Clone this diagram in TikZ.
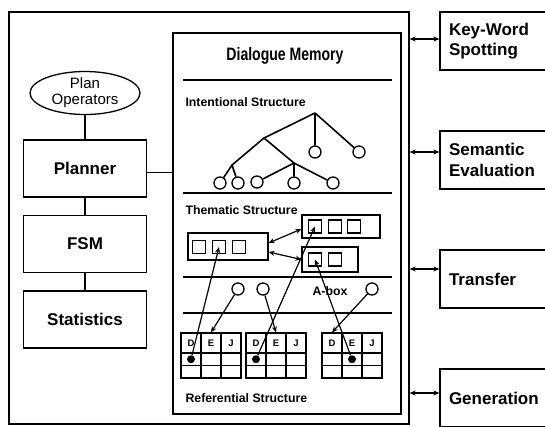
\documentclass[tikz,border=0pt]{standalone}
\usepackage{fontspec}
\setmainfont{Liberation Sans}
\newfontfamily\condsans[FakeStretch=0.78]{Liberation Sans}
\usetikzlibrary{shapes.geometric, positioning, arrows.meta}
\newcommand{\modfont}{\fontsize{17}{20.5}\selectfont\bfseries}
\newcommand{\titlefont}{\condsans\fontsize{18}{20}\selectfont\bfseries}
\newcommand{\labfont}{\fontsize{12.3}{14}\selectfont\bfseries}
\newcommand{\opsfont}{\fontsize{15}{17}\selectfont}
\newcommand{\cellfont}{\fontsize{9.5}{9.5}\selectfont\bfseries}
\tikzset{
>={Stealth[length=6pt, width=5pt]}, % small filled arrow heads
link/.style={line width=1.3pt}, % plain connections
pointer/.style={line width=1.2pt}, % arrows inside the memory
module/.style={draw, line width=1.3pt, minimum width=123pt, minimum height=57pt, font=\modfont}, % boxes on the left
outbox/.style={draw, line width=1.3pt, minimum width=110pt, minimum height=58pt, text width=92pt, inner xsep=9pt, align=left, font=\modfont}, % boxes on the right
leaf/.style={draw, circle, line width=1.3pt, minimum size=12pt, inner sep=0pt}, % tree and a-box circles
sq/.style={draw, line width=1.1pt, minimum size=13pt, inner sep=0pt}, % small squares of the thematic structure
head/.style={draw, line width=1.1pt, minimum width=20pt, minimum height=20pt, inner sep=0pt, font=\cellfont}, % grid header cells
cell/.style={draw, line width=1.1pt, minimum width=20pt, minimum height=12.5pt, inner sep=0pt}, % grid cells
dot/.style={circle, fill, minimum size=8pt, inner sep=0pt}, % pointer origins
}
\begin{document}
\begin{tikzpicture}[x=1pt, y=-1pt]
            \useasboundingbox (0,0) rectangle (545,426);
            \node[draw, line width=1.3pt, minimum width=400pt, minimum height=412pt] (system) at (209,218) {};
            \node[draw, line width=1.3pt, minimum width=228pt, minimum height=381pt] (memory) at (287,223.5) {};
            \node[font=\titlefont] (title) at (285,56) {Dialogue Memory};
            \foreach \y in {80,193,277,313}
                \draw[pointer] (183,\y) -- (392,\y);
            \node[font=\labfont, anchor=west] (intent) at (182,102) {Intentional Structure};
            \node[font=\labfont, anchor=west] (thema) at (182,210) {Thematic Structure};
            \node[font=\labfont, anchor=west] (refer) at (182,398) {Referential Structure};

            % left column
            \node[ellipse, draw, line width=1.3pt, minimum width=110pt, minimum height=43pt, inner sep=0pt, align=center, font=\opsfont] (ops) at (85,93) {Plan\\[-1pt]Operators};
            \begin{scope}[node distance=75.5pt]
            \node[module, below of=ops] (planner) {Planner};
            \node[module, below of=planner] (fsm) {FSM};
            \node[module, below of=fsm] (stats) {Statistics};
            \end{scope}
            \draw[link] (ops) -- (planner) (planner) -- (fsm) (fsm) -- (stats);
            \draw[link] ([yshift=-4pt]planner.east) -- ([yshift=-4pt]planner.east -| memory.west);

            % right column
            \begin{scope}[node distance=119pt]
            \node[outbox] (keyword) at (495,41) {Key-Word\\Spotting};
            \node[outbox, below of=keyword] (semantic) {Semantic\\Evaluation};
            \node[outbox, below of=semantic] (transfer) {Transfer};
            \node[outbox, below of=transfer] (generation) {Generation};
            \end{scope}
            \draw[<->, link] ([yshift=2pt]keyword.west) -- ([yshift=2pt]keyword.west -| system.east);
            \draw[<->, link] ([yshift=8pt]semantic.west) -- ([yshift=8pt]semantic.west -| system.east);
            \draw[<->, link] ([yshift=10pt]transfer.west) -- ([yshift=10pt]transfer.west -| system.east);
            \draw[<->, link] ([yshift=5pt]generation.west) -- ([yshift=5pt]generation.west -| system.east);

            % intentional structure
            \coordinate (root) at (315,113);
            \coordinate (ta) at (264,138);
            \coordinate (tb) at (232,165);
            \coordinate (tc) at (294,163);
            \node[leaf] (l1) at (315,152) {};
            \node[leaf] (l2) at (359,152) {};
            \node[leaf] (l3) at (220,183) {};
            \node[leaf] (l4) at (238,183) {};
            \node[leaf] (l5) at (257,182) {};
            \node[leaf] (l6) at (294,183) {};
            \node[leaf] (l7) at (333,183) {};
            \draw[link, line width=1.6pt]
                (root) -- (l1) (root) -- (l2) (root) -- (ta)
                (ta) -- (tb) (ta) -- (tc)
                (tb) -- (l3) (tb) -- (l4)
                (tc) -- (l5) (tc) -- (l6) (tc) -- (l7);

            % thematic structure
            \node[draw, line width=1.1pt, minimum width=80pt, minimum height=27pt] (theme1) at (228,246.5) {};
            \node[draw, line width=1.1pt, minimum width=78pt, minimum height=23pt] (theme2) at (341,226.5) {};
            \node[draw, line width=1.1pt, minimum width=56pt, minimum height=25pt] (theme3) at (330,259.5) {};
            \foreach \i/\x in {1/199,2/219,3/239}
                \node[sq] (s1\i) at (\x,247) {};
            \foreach \i/\x in {1/315,2/335,3/354}
                \node[sq] (s2\i) at (\x,226.5) {};
            \foreach \i/\x in {1/315,2/335}
                \node[sq] (s3\i) at (\x,259.5) {};
            \draw[<->, pointer] ([yshift=3.5pt]theme1.east) -- ([yshift=-2.5pt]theme2.west);
            \draw[<->, pointer] ([yshift=-5.5pt]theme1.east) -- (theme3.west);

            % a-box
            \node[leaf] (ab1) at (238,289) {};
            \node[leaf] (ab2) at (263,289) {};
            \node[leaf] (ab3) at (372,289) {};
            \node[font=\labfont] (abox) at (330,291) {A-box};

            % referential structure
            \foreach \g/\x in {1/181,2/246,3/322}
                \foreach \c/\l in {1/D,2/E,3/J} {
                    \node[head] (g\g-h\c) at ({\x+20*\c-10},343) {\l};
                    \node[cell] (g\g-a\c) at ({\x+20*\c-10},359.25) {};
                    \node[cell] (g\g-b\c) at ({\x+20*\c-10},371.75) {};
                }
            \node[dot] (d1) at (g1-a1) {};
            \node[dot] (d2) at (g2-a1) {};
            \node[dot] (d3) at (g3-a2) {};
            \draw[->, pointer] (d1) -- (s12.center);
            \draw[->, pointer] (d2) -- (s21.center);
            \draw[->, pointer] (d3) -- (s31.center);
            \draw[->, pointer] (ab1) -- (g1-h2.north);
            \draw[->, pointer] (ab2) -- (g2-h2.north);
            \draw[->, pointer] (ab3) -- (g3-h1.north);
        \end{tikzpicture}
\end{document}
